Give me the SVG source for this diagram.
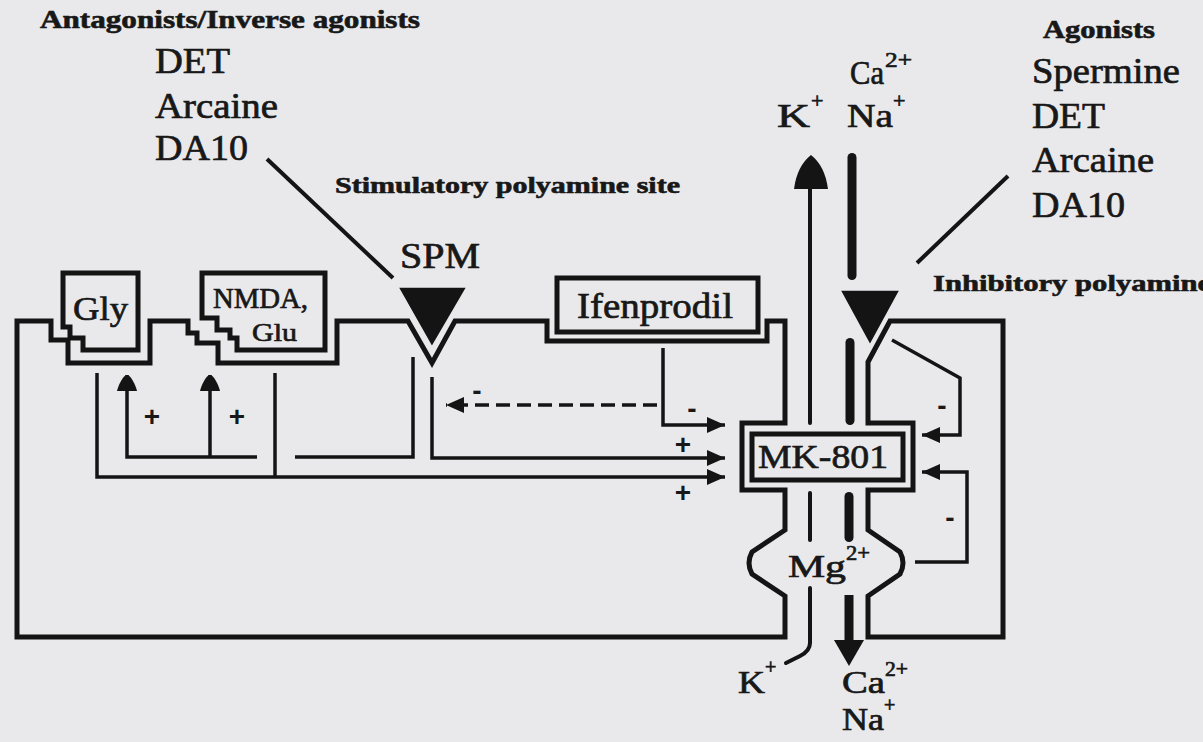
<svg xmlns="http://www.w3.org/2000/svg" width="1203" height="742" viewBox="0 0 1203 742">
<defs>
<style>
.t{font-family:"Liberation Serif","Times New Roman",serif;fill:#181818;stroke:#181818;stroke-width:0.7}
.b{font-weight:bold;stroke-width:0.6}
.m{fill:none;stroke:#141414;stroke-width:5;stroke-linejoin:miter}
.c{fill:none;stroke:#141414;stroke-width:3.5}
.thin{fill:none;stroke:#141414;stroke-width:4;stroke-linecap:round}
.f{fill:#141414}
.sign{font-family:"Liberation Sans",Arial,sans-serif;font-weight:bold;font-size:28px;fill:#181818;text-anchor:middle}
</style>
<marker id="ah" markerUnits="userSpaceOnUse" markerWidth="20" markerHeight="18" refX="18" refY="9" orient="auto"><path d="M0,1 L18,9 L0,17 Z" fill="#141414"/></marker>
<marker id="ab" markerUnits="userSpaceOnUse" markerWidth="18" markerHeight="20" refX="16" refY="10" orient="auto"><path d="M0,0 C5,1 16,6 16,10 C16,14 5,19 0,20 Z" fill="#141414"/></marker>
</defs>
<rect width="1203" height="742" fill="#e9e9eb"/>

<g id="antagonists">
<text class="t b" x="40" y="28" font-size="25" textLength="380" lengthAdjust="spacingAndGlyphs">Antagonists/Inverse agonists</text>
<text class="t" x="155" y="73" font-size="36" textLength="75" lengthAdjust="spacingAndGlyphs">DET</text>
<text class="t" x="155" y="118" font-size="36" textLength="123" lengthAdjust="spacingAndGlyphs">Arcaine</text>
<text class="t" x="155" y="160" font-size="36" textLength="93" lengthAdjust="spacingAndGlyphs">DA10</text>
</g>

<g id="agonists">
<text class="t b" x="1043" y="38" font-size="25" textLength="112" lengthAdjust="spacingAndGlyphs">Agonists</text>
<text class="t" x="1032" y="83" font-size="36" textLength="148" lengthAdjust="spacingAndGlyphs">Spermine</text>
<text class="t" x="1032" y="128" font-size="36" textLength="73" lengthAdjust="spacingAndGlyphs">DET</text>
<text class="t" x="1032" y="172" font-size="36" textLength="122" lengthAdjust="spacingAndGlyphs">Arcaine</text>
<text class="t" x="1032" y="217" font-size="36" textLength="93" lengthAdjust="spacingAndGlyphs">DA10</text>
</g>

<g id="membrane">
<path class="m" d="M17,637 V321 H51 V340 H68 V363 H150 V321 H188 V333 H197 V343 H218 V363 H337 V321 H408 L432,363 L455,321 H547 V341 H767 V321 H785 V423 H742 V490 H785 V530 L752,552 Q746,563 752,574 L785,596 V637 Z"/>
<path class="m" d="M1003,321 H890 L868,362 V423 H913 V490 H868 V530 L900,552 Q906,563 900,574 L868,596 V637 H1003 Z"/>
</g>

<g id="gly">
<path class="m" d="M63,273 H138 V350 H83 V338 H70 V327 H63 Z"/>
<text class="t" x="73" y="320" font-size="34" textLength="55" lengthAdjust="spacingAndGlyphs">Gly</text>
</g>

<g id="nmda">
<path class="m" d="M202,273 H325 V350 H237 V338 H230 V330 H217 V318 H202 Z"/>
<text class="t" x="213" y="308" font-size="29" textLength="95" lengthAdjust="spacingAndGlyphs">NMDA,</text>
<text class="t" x="252" y="341" font-size="26" textLength="45" lengthAdjust="spacingAndGlyphs">Glu</text>
</g>

<g id="spm">
<text class="t b" x="335" y="193" font-size="23" textLength="345" lengthAdjust="spacingAndGlyphs">Stimulatory polyamine site</text>
<text class="t" x="400" y="268" font-size="35" textLength="80" lengthAdjust="spacingAndGlyphs">SPM</text>
<path d="M398,287 H467 L432,347 Z" fill="#141414" stroke="#e9e9eb" stroke-width="1.5"/>
</g>

<g id="ifenprodil">
<rect class="m" x="557" y="278" width="201" height="54"/>
<text class="t" x="577" y="318" font-size="36" textLength="156" lengthAdjust="spacingAndGlyphs">Ifenprodil</text>
</g>

<g id="mk801">
<rect class="m" x="752" y="434" width="151" height="46" stroke-width="6"/>
<text class="t" x="758" y="468" font-size="34" textLength="130" lengthAdjust="spacingAndGlyphs">MK-801</text>
</g>

<g id="inhibitory">
<text class="t b" x="933" y="291" font-size="23" textLength="330" lengthAdjust="spacingAndGlyphs">Inhibitory polyamine site</text>
<path d="M840,290 H900 L870,345 Z" fill="#141414" stroke="#e9e9eb" stroke-width="1.5"/>
</g>

<g id="ions">
<line class="thin" x1="810" y1="423" x2="810" y2="186" stroke-linecap="butt"/>
<path class="f" d="M794,189 Q797,166 811,155 Q825,166 828,189 Z"/>
<rect class="f" x="847.5" y="153" width="9" height="127" rx="4.5"/>
<rect class="f" x="845.5" y="338" width="9" height="87" rx="4.5"/>
<line class="thin" x1="810" y1="493" x2="810" y2="540"/>
<rect class="f" x="844.5" y="492" width="9" height="50" rx="4.5"/>
<path class="thin" d="M810,588 V643 Q810,651 800,656 L786,663"/>
<rect class="f" x="844.5" y="595" width="9" height="47"/>
<path class="f" d="M834,640 H864 L849,666 Z"/>
<text class="t" x="850" y="84" font-size="34" textLength="34" lengthAdjust="spacingAndGlyphs">Ca</text>
<text class="t" x="885" y="67" font-size="22" textLength="27" lengthAdjust="spacingAndGlyphs">2+</text>
<text class="t" x="777" y="127" font-size="34" textLength="33" lengthAdjust="spacingAndGlyphs">K</text>
<text class="t" x="811" y="108" font-size="22">+</text>
<text class="t" x="847" y="127" font-size="34" textLength="46" lengthAdjust="spacingAndGlyphs">Na</text>
<text class="t" x="893" y="108" font-size="22">+</text>
<text class="t" x="788" y="577" font-size="32" textLength="58" lengthAdjust="spacingAndGlyphs">Mg</text>
<text class="t" x="846" y="560" font-size="22" textLength="24" lengthAdjust="spacingAndGlyphs">2+</text>
<text class="t" x="738" y="693" font-size="31" textLength="27" lengthAdjust="spacingAndGlyphs">K</text>
<text class="t" x="765" y="674" font-size="20">+</text>
<text class="t" x="842" y="693" font-size="31" textLength="43" lengthAdjust="spacingAndGlyphs">Ca</text>
<text class="t" x="885" y="676" font-size="20" textLength="23" lengthAdjust="spacingAndGlyphs">2+</text>
<text class="t" x="842" y="730" font-size="31" textLength="42" lengthAdjust="spacingAndGlyphs">Na</text>
<text class="t" x="884" y="712" font-size="20">+</text>
</g>

<g id="connectors">
<line x1="267" y1="159" x2="393" y2="278" stroke="#141414" stroke-width="4"/>
<line x1="1008" y1="176" x2="917" y2="263" stroke="#141414" stroke-width="4"/>
<path class="c" d="M97,373 V477 H725" marker-end="url(#ah)"/>
<path class="c" d="M275,373 V477"/>
<path class="c" d="M413,357 V457 H295"/>
<path class="c" d="M257,457 H127 V375" marker-end="url(#ab)"/>
<path class="c" d="M210,457 V375" marker-end="url(#ab)"/>
<path class="c" d="M432,377 V458 H725" marker-end="url(#ah)"/>
<path class="c" d="M663,348 V425 H725" marker-end="url(#ah)"/>
<path class="c" d="M657,405 H446" stroke-width="4" stroke-dasharray="14 7" marker-end="url(#ah)"/>
<path class="c" d="M892,340 L960,378 V435 H922" marker-end="url(#ah)"/>
<path class="c" d="M915,562 H967 V472 H922" marker-end="url(#ah)"/>
<text class="sign" x="152" y="426">+</text>
<text class="sign" x="237" y="426">+</text>
<text class="sign" x="683" y="454">+</text>
<text class="sign" x="683" y="502">+</text>
<text class="sign" x="477" y="400">-</text>
<text class="sign" x="692" y="418">-</text>
<text class="sign" x="942" y="415">-</text>
<text class="sign" x="950" y="527">-</text>
</g>
</svg>
